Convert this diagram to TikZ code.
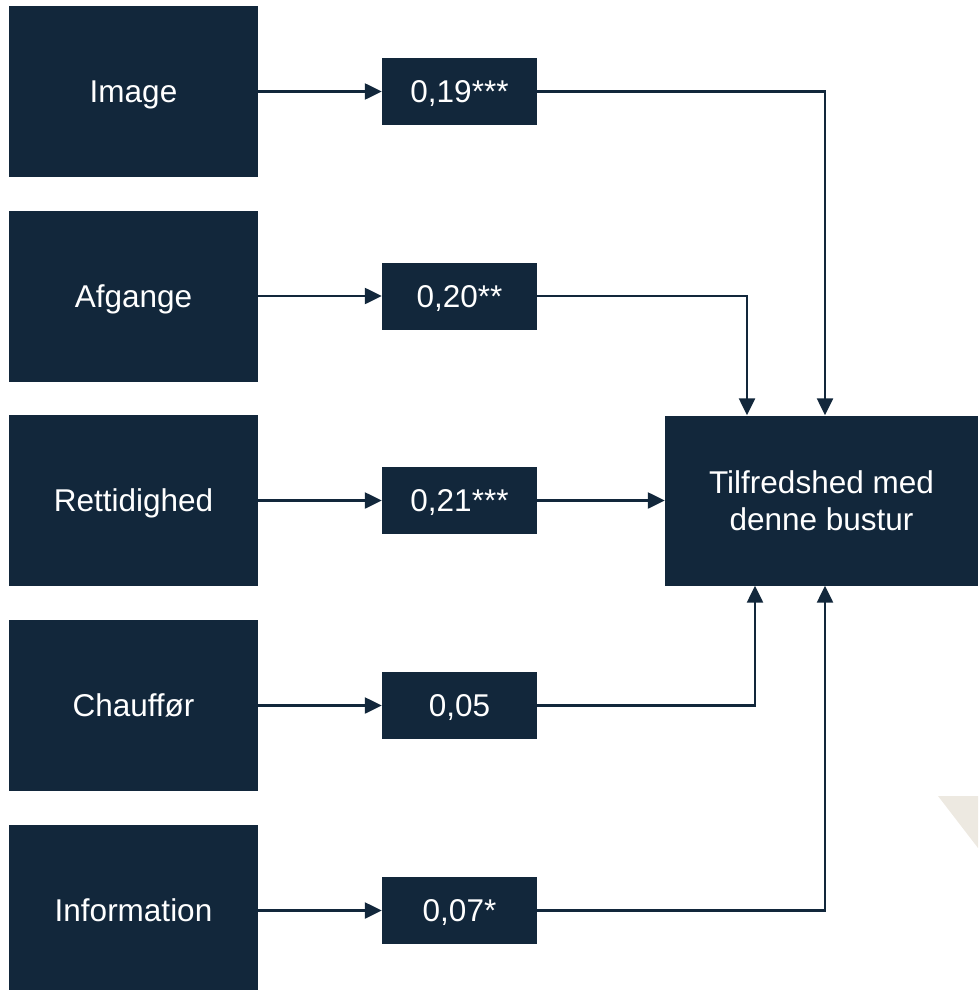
\documentclass[tikz,border=0pt]{standalone}
\usepackage{fontspec}
\setmainfont{Liberation Sans}
\usetikzlibrary{arrows.meta,positioning,calc}

\definecolor{navy}{RGB}{18,39,59}
\definecolor{sand}{RGB}{237,233,225}

\begin{document}
\begin{tikzpicture}[
				x=1pt,y=-1pt,
				>={Triangle[length=17pt,width=16pt]},
				factor/.style={
					rectangle,
					fill=navy,
					text=white,
					inner sep=0pt,
					minimum width=249pt,
					minimum height=171pt,
					text height=22pt,
					text depth=0pt,
					font=\fontsize{31.5}{37}\selectfont
				},
				coef/.style={
					rectangle,
					fill=navy,
					text=white,
					inner sep=0pt,
					minimum width=155pt,
					minimum height=67pt,
					text height=22pt,
					text depth=0pt,
					font=\fontsize{31.5}{37}\selectfont
				},
				outcome/.style={
					rectangle,
					fill=navy,
					text=white,
					inner sep=0pt,
					align=center,
					minimum width=313pt,
					minimum height=170pt,
					font=\fontsize{31.5}{37}\selectfont
				},
				link/.style={
					->,
					draw=navy,
					line width=2.4pt
				}
				]
				
				\useasboundingbox (0,0) rectangle (978,990);
				\clip (0,0) rectangle (978,990);
				
				% -------------------------------------------------------------------------
				% Background corner mark
				% -------------------------------------------------------------------------
				
				\fill[sand] (938,796) -- (978,796) -- (978,848) -- cycle;
				
				% -------------------------------------------------------------------------
				% Factors
				% -------------------------------------------------------------------------
				
				\node[factor] (IMG) at (133.5,91.5)
				{Image};
				
				\node[factor] (AFG) at (133.5,296)
				{Afgange};
				
				\node[factor] (RET) at (133.5,500.5)
				{Rettidighed};
				
				\node[factor] (CHA) at (133.5,705.5)
				{Chauffør};
				
				\node[factor] (INF) at (133.5,910.5)
				{Information};
				
				% -------------------------------------------------------------------------
				% Coefficients
				% -------------------------------------------------------------------------
				
				\node[coef] (cIMG) at (459.5,91.5)
				{0,19***};
				
				\node[coef] (cAFG) at (459.5,296)
				{0,20**};
				
				\node[coef] (cRET) at (459.5,500.5)
				{0,21***};
				
				\node[coef] (cCHA) at (459.5,705.5)
				{0,05};
				
				\node[coef] (cINF) at (459.5,910.5)
				{0,07*};
				
				% -------------------------------------------------------------------------
				% Outcome
				% -------------------------------------------------------------------------
				
				\node[outcome] (SAT) at (821.5,500.5)
				{Tilfredshed med\\denne bustur};
				
				% -------------------------------------------------------------------------
				% Arrows
				% -------------------------------------------------------------------------
				
				\draw[link] (IMG) -- (cIMG);
				\draw[link] (AFG) -- (cAFG);
				\draw[link] (RET) -- (cRET);
				\draw[link] (CHA) -- (cCHA);
				\draw[link] (INF) -- (cINF);
				
				\draw[link] (cIMG.east) -| (SAT.north -| 825,0);
				\draw[link] (cAFG.east) -| (SAT.north -| 747,0);
				\draw[link] (cRET) -- (SAT);
				\draw[link] (cCHA.east) -| (SAT.south -| 755,0);
				\draw[link] (cINF.east) -| (SAT.south -| 825,0);
				
		\end{tikzpicture}
\end{document}
